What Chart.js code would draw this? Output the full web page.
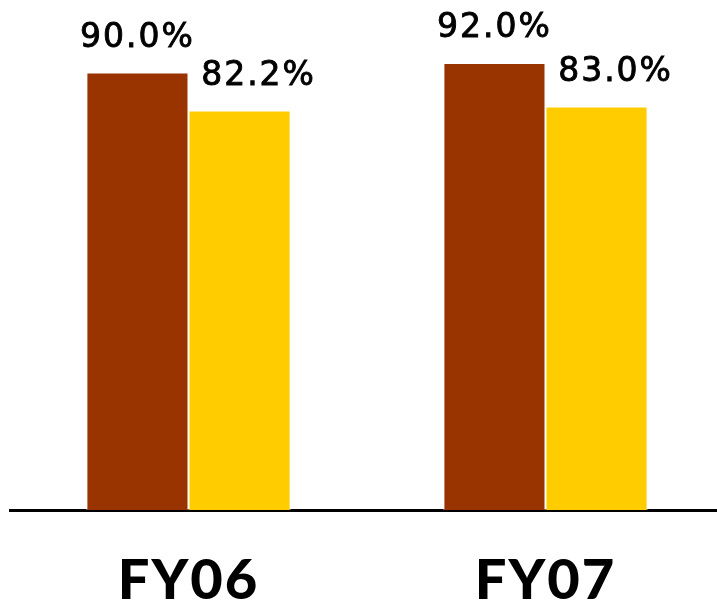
<!DOCTYPE html>
<html>
<head>
<meta charset="utf-8">
<script src="https://cdn.jsdelivr.net/npm/chart.js@4"></script>
<style>
  html, body { margin:0; padding:0; background:#fff; overflow:hidden; }
  #wrap { width:724px; height:603px; }
</style>
</head>
<body>
<div id="wrap"><canvas id="c" width="724" height="603"></canvas></div>
<script>
// chart data
const years = ['FY06', 'FY07'];
const seriesA = [90.0, 92.0];
const seriesB = [82.2, 83.0];
const colorA = '#993300';
const colorB = '#FFCC00';

// value labels above the bars
const valueLabels = {
  id: 'valueLabels',
  beforeDraw(chart){ chart.ctx.letterSpacing = '2px'; },
  afterDraw(chart){ chart.ctx.letterSpacing = '0px'; },
  afterDatasetsDraw(chart){
    const ctx = chart.ctx;
    ctx.save();
    ctx.font = '33px "DejaVu Sans"';
    ctx.letterSpacing = '2px';
    ctx.fillStyle = '#000';
    ctx.strokeStyle = '#000';
    ctx.lineWidth = 0.9;
    ctx.textAlign = 'center';
    ctx.textBaseline = 'alphabetic';
    chart.data.datasets.forEach((ds, i) => {
      const meta = chart.getDatasetMeta(i);
      meta.data.forEach((bar, j) => {
        const dx = i === 1 ? 19 : 0;
        const txt = ds.data[j].toFixed(1) + '%';
        ctx.fillText(txt, bar.x + dx, bar.y - 26);
        ctx.strokeText(txt, bar.x + dx, bar.y - 26);
      });
    });
    ctx.restore();
  }
};

new Chart(document.getElementById('c'), {
  type: 'bar',
  data: {
    labels: years,
    datasets: [
      {data: seriesA, backgroundColor: colorA, borderColor: '#fff', borderWidth: 1},
      {data: seriesB, backgroundColor: colorB, borderColor: '#fff', borderWidth: 1}
    ]
  },
  options: {
    responsive: false,
    animation: false,
    layout: {padding: {top: 24, left: 10, right: 0, bottom: 0}},
    plugins: {legend: {display: false}, tooltip: {enabled: false}},
    datasets: {bar: {categoryPercentage: 0.572, barPercentage: 1}},
    scales: {
      y: {display: false, min: 0, max: 100},
      x: {
        grid: {display: false, drawTicks: false},
        border: {display: true, color: '#000', width: 3},
        ticks: {color: '#000', font: {family: 'Lato', weight: '900', size: 56}, padding: 37},
        afterFit(scale){ scale.height = 93; }
      }
    }
  },
  plugins: [valueLabels]
});
</script>
</body>
</html>
